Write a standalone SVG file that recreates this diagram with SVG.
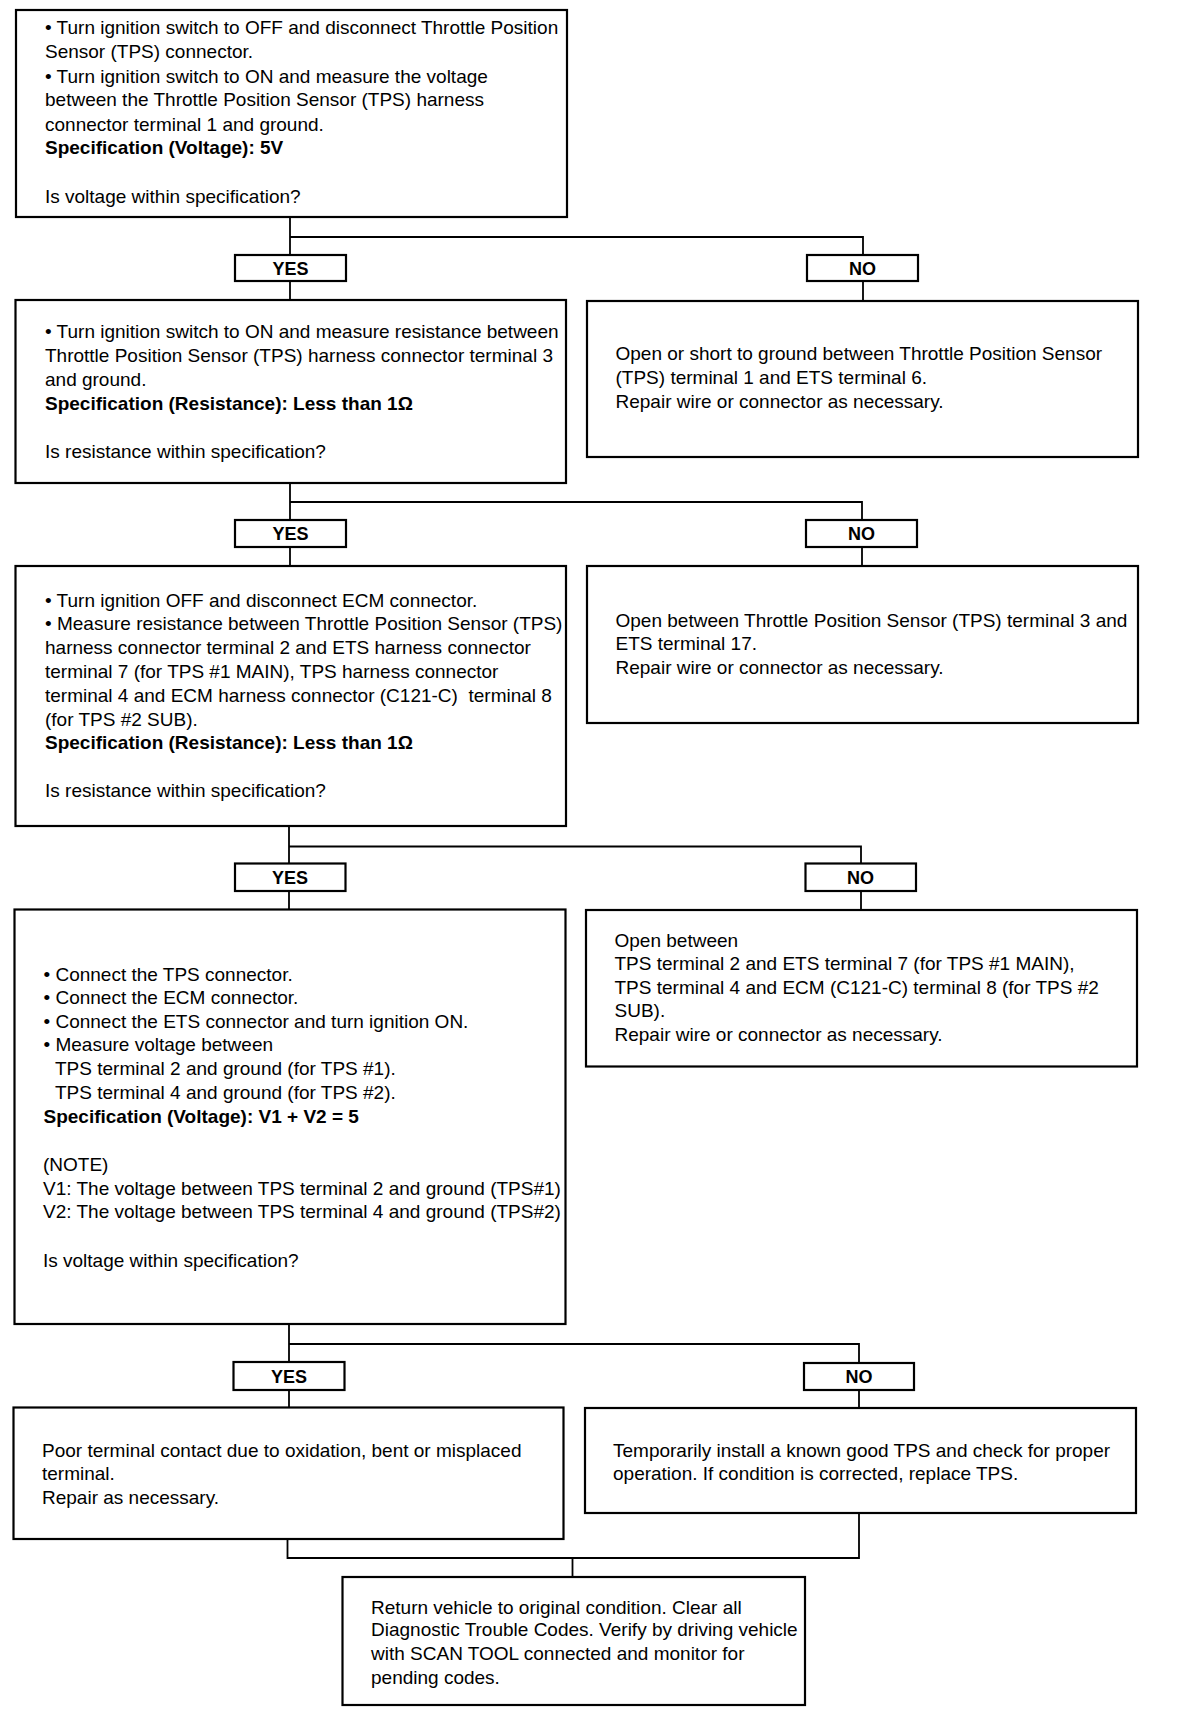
<svg xmlns="http://www.w3.org/2000/svg" width="1184" height="1718" viewBox="0 0 1184 1718">
<style>
.box{fill:#fff;stroke:#000;stroke-width:2.2}
.lbl{fill:#fff;stroke:#000;stroke-width:2.2}
.c{fill:none;stroke:#000;stroke-width:1.8}
text{font-family:"Liberation Sans",Arial,sans-serif;font-size:19px;fill:#000;white-space:pre}
.b{font-weight:bold}
.lt{font-weight:bold;font-size:18px;text-anchor:middle}
</style>
<rect width="1184" height="1718" fill="#fff"/>
<g id="connectors">
<polyline class="c" points="290,217 290,299"/>
<polyline class="c" points="290,237 863,237 863,301"/>
<polyline class="c" points="290,483 290,566"/>
<polyline class="c" points="290,502 862,502 862,566"/>
<polyline class="c" points="289,826 289,909"/>
<polyline class="c" points="289,846.5 861,846.5 861,910"/>
<polyline class="c" points="289,1324 289,1408"/>
<polyline class="c" points="289,1344 859,1344 859,1408"/>
<polyline class="c" points="287.5,1539 287.5,1558 859,1558 859,1513"/>
<polyline class="c" points="572.5,1558 572.5,1577"/>
</g>
<g id="yes1"><rect class="lbl" x="235" y="255" width="111" height="26"/><text class="lt" x="290.5" y="274.5">YES</text></g>
<g id="no1"><rect class="lbl" x="807" y="255" width="111" height="26"/><text class="lt" x="862.5" y="274.5">NO</text></g>
<g id="yes2"><rect class="lbl" x="235" y="520" width="111" height="27"/><text class="lt" x="290.5" y="540">YES</text></g>
<g id="no2"><rect class="lbl" x="806" y="520" width="111" height="27"/><text class="lt" x="861.5" y="540">NO</text></g>
<g id="yes3"><rect class="lbl" x="235" y="863.5" width="110.5" height="27.5"/><text class="lt" x="290" y="883.5">YES</text></g>
<g id="no3"><rect class="lbl" x="805.5" y="863.5" width="110.5" height="27.5"/><text class="lt" x="860.5" y="883.5">NO</text></g>
<g id="yes4"><rect class="lbl" x="233.5" y="1362" width="111" height="28"/><text class="lt" x="289" y="1382.5">YES</text></g>
<g id="no4"><rect class="lbl" x="804" y="1363" width="110" height="27"/><text class="lt" x="859" y="1383">NO</text></g>
<g id="box1">
<rect class="box" x="16" y="10" width="551" height="207"/>
<text x="45" y="34">• Turn ignition switch to OFF and disconnect Throttle Position</text>
<text x="45" y="58">Sensor (TPS) connector.</text>
<text x="45" y="82.5">• Turn ignition switch to ON and measure the voltage</text>
<text x="45" y="106">between the Throttle Position Sensor (TPS) harness</text>
<text x="45" y="130.5">connector terminal 1 and ground.</text>
<text class="b" x="45" y="154">Specification (Voltage): 5V</text>
<text x="45" y="202.5">Is voltage within specification?</text>
</g>
<g id="box2">
<rect class="box" x="15.5" y="300" width="550.5" height="183"/>
<text x="45" y="337.5">• Turn ignition switch to ON and measure resistance between</text>
<text x="45" y="361.5">Throttle Position Sensor (TPS) harness connector terminal 3</text>
<text x="45" y="385.5">and ground.</text>
<text class="b" x="45" y="410">Specification (Resistance): Less than 1Ω</text>
<text x="45" y="458">Is resistance within specification?</text>
</g>
<g id="no1box">
<rect class="box" x="587" y="301" width="551" height="156"/>
<text x="615.5" y="360">Open or short to ground between Throttle Position Sensor</text>
<text x="615.5" y="384">(TPS) terminal 1 and ETS terminal 6.</text>
<text x="615.5" y="408">Repair wire or connector as necessary.</text>
</g>
<g id="box3">
<rect class="box" x="15.5" y="566" width="550.5" height="260"/>
<text x="45" y="606.5">• Turn ignition OFF and disconnect ECM connector.</text>
<text x="45" y="630">• Measure resistance between Throttle Position Sensor (TPS)</text>
<text x="45" y="654">harness connector terminal 2 and ETS harness connector</text>
<text x="45" y="678">terminal 7 (for TPS #1 MAIN), TPS harness connector</text>
<text x="45" y="702">terminal 4 and ECM harness connector (C121-C)  terminal 8</text>
<text x="45" y="725.5">(for TPS #2 SUB).</text>
<text class="b" x="45" y="749">Specification (Resistance): Less than 1Ω</text>
<text x="45" y="797">Is resistance within specification?</text>
</g>
<g id="no2box">
<rect class="box" x="587" y="566" width="551" height="157"/>
<text x="615.5" y="626.5">Open between Throttle Position Sensor (TPS) terminal 3 and</text>
<text x="615.5" y="650">ETS terminal 17.</text>
<text x="615.5" y="673.5">Repair wire or connector as necessary.</text>
</g>
<g id="box4">
<rect class="box" x="14.5" y="909.5" width="551" height="414.5"/>
<text x="43.5" y="980.5">• Connect the TPS connector.</text>
<text x="43.5" y="1004">• Connect the ECM connector.</text>
<text x="43.5" y="1027.5">• Connect the ETS connector and turn ignition ON.</text>
<text x="43.5" y="1050.5">• Measure voltage between</text>
<text x="55" y="1074.5">TPS terminal 2 and ground (for TPS #1).</text>
<text x="55" y="1098.5">TPS terminal 4 and ground (for TPS #2).</text>
<text class="b" x="43.5" y="1122.5">Specification (Voltage): V1 + V2 = 5</text>
<text x="43" y="1170.5">(NOTE)</text>
<text x="43" y="1194.5">V1: The voltage between TPS terminal 2 and ground (TPS#1)</text>
<text x="43" y="1217.5">V2: The voltage between TPS terminal 4 and ground (TPS#2)</text>
<text x="43" y="1266.5">Is voltage within specification?</text>
</g>
<g id="no3box">
<rect class="box" x="586" y="910" width="551" height="156.5"/>
<text x="614.5" y="946.5">Open between</text>
<text x="614.5" y="969.5">TPS terminal 2 and ETS terminal 7 (for TPS #1 MAIN),</text>
<text x="614.5" y="993.5">TPS terminal 4 and ECM (C121-C) terminal 8 (for TPS #2</text>
<text x="614.5" y="1016.5">SUB).</text>
<text x="614.5" y="1040.5">Repair wire or connector as necessary.</text>
</g>
<g id="box5">
<rect class="box" x="13.5" y="1407.5" width="550" height="131.5"/>
<text x="42" y="1456.5">Poor terminal contact due to oxidation, bent or misplaced</text>
<text x="42" y="1479.5">terminal.</text>
<text x="42" y="1503.5">Repair as necessary.</text>
</g>
<g id="no4box">
<rect class="box" x="585" y="1408" width="551" height="105"/>
<text x="613" y="1456.5">Temporarily install a known good TPS and check for proper</text>
<text x="613" y="1479.5">operation. If condition is corrected, replace TPS.</text>
</g>
<g id="final">
<rect class="box" x="342.5" y="1577" width="462.5" height="128"/>
<text x="371" y="1613.5">Return vehicle to original condition. Clear all</text>
<text x="371" y="1636">Diagnostic Trouble Codes. Verify by driving vehicle</text>
<text x="371" y="1659.5">with SCAN TOOL connected and monitor for</text>
<text x="371" y="1683.5">pending codes.</text>
</g>
</svg>
